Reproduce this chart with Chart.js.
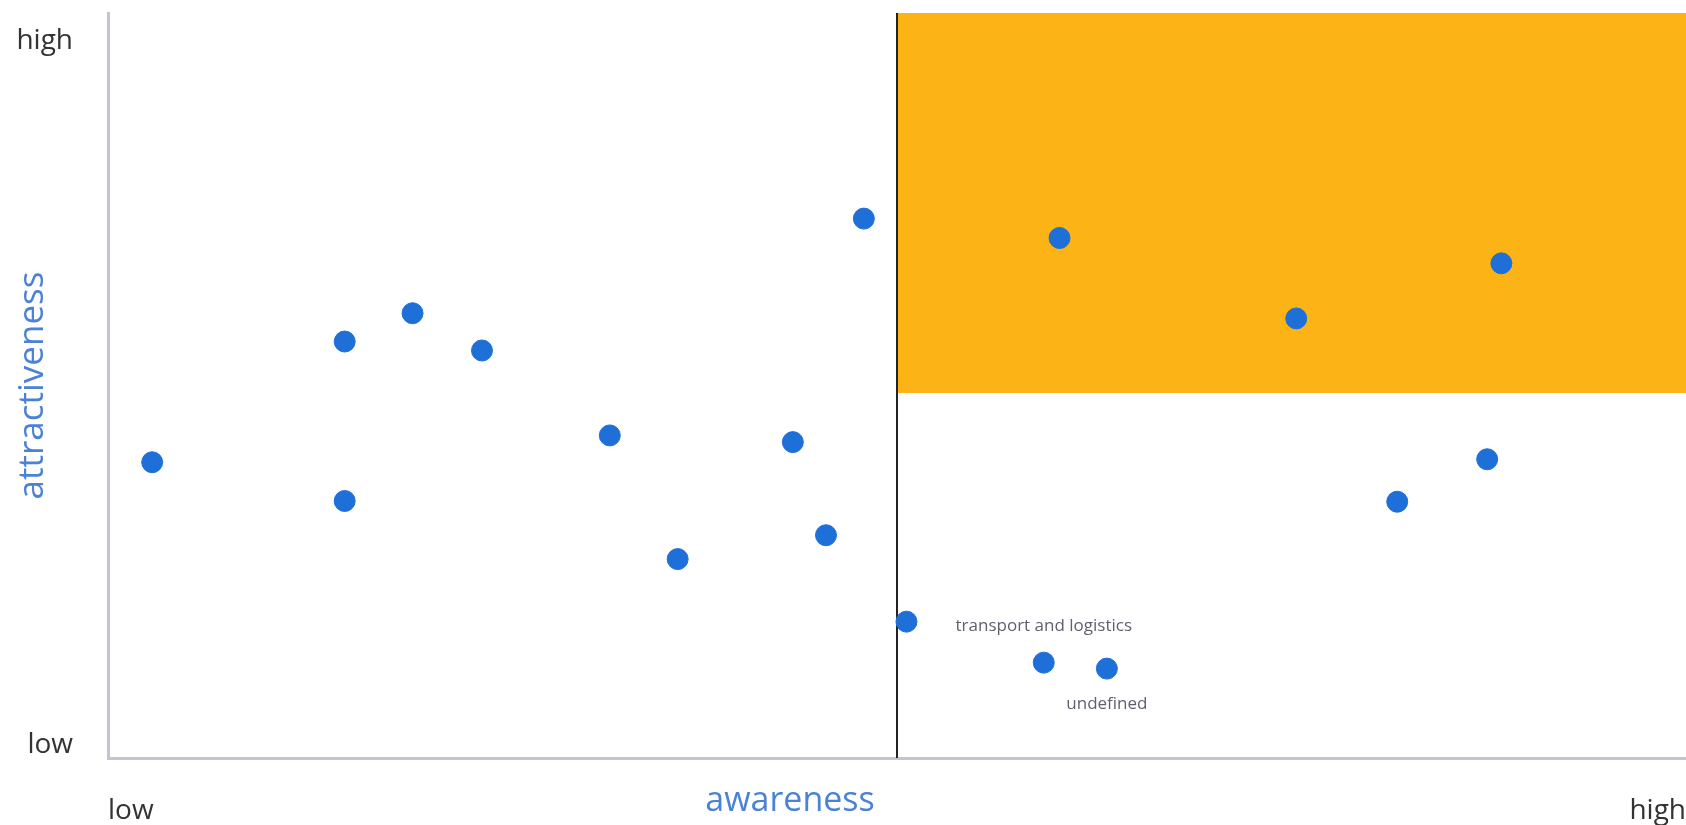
<!DOCTYPE html>
<html>
<head>
<meta charset="utf-8">
<script src="https://cdn.jsdelivr.net/npm/chart.js@4"></script>
<style>
  html,body{margin:0;padding:0;background:#fff;overflow:hidden}
  #wrap{position:relative;width:1686px;height:825px}
</style>
</head>
<body>
<div id="wrap"><canvas id="c"></canvas></div>
<script>
// awareness / attractiveness 矩阵
const xValues=[2.8,15.0,19.3,23.7,15.0,31.8,36.1,43.4,45.5,47.9,50.6,60.3,59.3,63.3,75.3,88.3,81.7,87.4];
const yValues=[39.7,55.9,59.7,54.7,34.5,43.3,26.7,42.4,29.9,72.4,18.3,69.8,12.8,12.0,59.0,66.4,34.4,40.1];
const pointLabels=[null,null,null,null,null,null,null,null,null,null,null,null,"transport and logistics","undefined",null,null,null,null];
const labelSide=[0,0,0,0,0,0,0,0,0,0,0,0,-1,1,0,0,0,0]; // -1 above, 1 below

const xTickValues=[0,100];
const xTickLabels=["low","high"];
const yTickValues=[1.8,96.2];
const yTickLabels=["low","high"];

const xTitle="awareness";
const yTitle="attractiveness";
const xMid=50, yMid=49;

const FONT="'Open Sans', sans-serif";
const BLUE_TEXT="#4a82d6";

const quadrant={
  id:"quadrant",
  beforeDatasetsDraw(chart){
    const {ctx,chartArea:a,scales:{x,y}}=chart;
    ctx.save();
    ctx.fillStyle="#fcb316";
    const x0=x.getPixelForValue(xMid), y0=y.getPixelForValue(yMid);
    ctx.fillRect(x0,a.top,a.right-x0,y0-a.top);
    ctx.strokeStyle="#222";
    ctx.lineWidth=2;
    ctx.beginPath(); ctx.moveTo(x0,a.top); ctx.lineTo(x0,a.bottom); ctx.stroke();
    ctx.restore();
  },
  afterDatasetsDraw(chart){
    const {ctx}=chart;
    const meta=chart.getDatasetMeta(0);
    ctx.save();
    ctx.font="17px "+FONT;
    ctx.fillStyle="#5f5f70";
    ctx.textAlign="center";
    ctx.textBaseline="middle";
    meta.data.forEach((p,i)=>{
      if(!pointLabels[i]) return;
      ctx.fillText(pointLabels[i],p.x,p.y+labelSide[i]*36);
    });
    ctx.restore();
  },
  afterDraw(chart){
    const {ctx,chartArea:a}=chart;
    ctx.save();
    ctx.font="34px "+FONT;
    ctx.fillStyle=BLUE_TEXT;
    ctx.textAlign="center";
    ctx.textBaseline="alphabetic";
    ctx.fillText(xTitle,790,811);
    ctx.font="35px "+FONT;
    ctx.translate(43,(a.top+a.bottom)/2);
    ctx.rotate(-Math.PI/2);
    ctx.fillText(yTitle,0,0);
    ctx.restore();
  }
};

new Chart(document.getElementById("c"),{
  type:"scatter",
  data:{datasets:[{
    data:xValues.map((v,i)=>({x:v,y:yValues[i]})),
    backgroundColor:"#1f6fd9",
    borderColor:"#1f6fd9",
    pointRadius:10.5,
    pointHoverRadius:10.5
  }]},
  options:{
    responsive:true,maintainAspectRatio:false,animation:false,
    layout:{autoPadding:false,padding:{top:13,right:0,left:0,bottom:0}},
    plugins:{legend:{display:false},tooltip:{enabled:false}},
    scales:{
      x:{
        type:"linear",min:0,max:100,
        grid:{display:false,drawTicks:false},
        border:{display:true,color:"#c4c4d0",width:3},
        afterBuildTicks:s=>{s.ticks=xTickValues.map(v=>({value:v}));},
        afterFit:s=>{s.height=67;s.paddingLeft=0;s.paddingRight=0;},
        ticks:{align:"inner",padding:36,color:"#333",font:{family:FONT,size:28},
          callback:(v)=>xTickLabels[xTickValues.indexOf(v)]}
      },
      y:{
        type:"linear",min:0,max:100,
        grid:{display:false,drawTicks:false},
        border:{display:true,color:"#c4c4d0",width:3},
        afterBuildTicks:s=>{s.ticks=yTickValues.map(v=>({value:v}));},
        afterFit:s=>{s.width=108;s.paddingTop=0;s.paddingBottom=0;},
        ticks:{padding:35,color:"#333",font:{family:FONT,size:28},
          callback:(v)=>yTickLabels[yTickValues.indexOf(v)]}
      }
    }
  },
  plugins:[quadrant]
});
</script>
</body>
</html>
